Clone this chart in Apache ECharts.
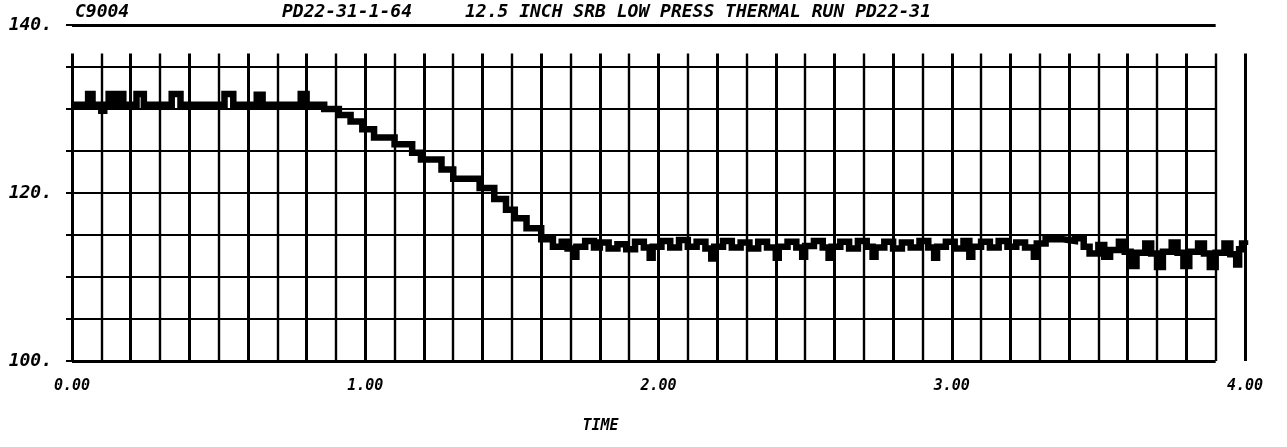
<!DOCTYPE html>
<html><head><meta charset="utf-8">
<script src="https://cdn.jsdelivr.net/npm/echarts@6/dist/echarts.min.js"></script>
<style>html,body{margin:0;padding:0;background:#fff}#c{width:1287px;height:447px}</style>
</head><body><div id="c"></div>
<script>
// ---- data ----
const timeValues = [
  0.00, 0.055, 0.07, 0.10, 0.11, 0.125, 0.145, 0.16, 0.175, 0.22, 0.245, 0.34, 0.37,
  0.52, 0.55, 0.63, 0.65, 0.78, 0.80, 0.86, 0.91, 0.95, 0.99, 1.03, 1.10, 1.16, 1.19,
  1.26, 1.30, 1.39, 1.44, 1.48, 1.51, 1.55, 1.60, 1.64, 1.67, 1.69, 1.71, 1.72, 1.75,
  1.78, 1.80, 1.83, 1.86, 1.89, 1.92, 1.95, 1.97, 1.98, 2.01, 2.04, 2.07, 2.10, 2.13,
  2.16, 2.18, 2.19, 2.22, 2.25, 2.28, 2.31, 2.34, 2.37, 2.40, 2.41, 2.44, 2.47, 2.49,
  2.50, 2.53, 2.56, 2.58, 2.59, 2.62, 2.65, 2.68, 2.71, 2.73, 2.74, 2.77, 2.80, 2.83,
  2.86, 2.89, 2.92, 2.94, 2.95, 2.98, 3.01, 3.04, 3.06, 3.07, 3.10, 3.13, 3.16, 3.19,
  3.22, 3.25, 3.28, 3.29, 3.32, 3.38, 3.42, 3.45, 3.47, 3.50, 3.52, 3.54, 3.57, 3.59,
  3.61, 3.63, 3.66, 3.68, 3.70, 3.72, 3.75, 3.77, 3.79, 3.81, 3.84, 3.86, 3.88, 3.90,
  3.93, 3.95, 3.97, 3.98, 3.99, 4.00
];
const pressureValues = [
  130.5, 131.8, 130.5, 129.8, 130.5, 131.8, 130.5, 131.8, 130.5, 131.8, 130.5, 131.8, 130.5,
  131.8, 130.5, 131.7, 130.5, 131.8, 130.5, 130.0, 129.3, 128.5, 127.6, 126.6, 125.8, 124.8, 124.0,
  122.8, 121.7, 120.6, 119.3, 118.0, 117.0, 115.8, 114.5, 113.6, 114.2, 113.4, 112.4, 113.6, 114.3,
  113.5, 114.1, 113.4, 113.9, 113.3, 114.2, 113.5, 112.3, 113.6, 114.3, 113.5, 114.4, 113.6, 114.2,
  113.4, 112.2, 113.6, 114.3, 113.5, 114.1, 113.4, 114.2, 113.5, 112.3, 113.6, 114.2, 113.5, 112.4,
  113.7, 114.3, 113.5, 112.3, 113.6, 114.2, 113.4, 114.3, 113.6, 112.4, 113.5, 114.2, 113.4, 114.1,
  113.5, 114.3, 113.5, 112.3, 113.6, 114.2, 113.4, 114.3, 112.4, 113.6, 114.2, 113.5, 114.3, 113.6,
  114.1, 113.5, 112.4, 114.0, 114.5, 114.3, 114.6, 113.6, 112.8, 113.8, 112.4, 113.2, 114.2, 113.0,
  111.3, 112.9, 114.0, 112.8, 111.2, 113.0, 114.1, 112.9, 111.3, 113.0, 114.0, 112.8, 111.2, 112.9,
  114.0, 112.7, 111.5, 113.3, 114.0, 113.8
];
const xTickLabels = ['0.00', '1.00', '2.00', '3.00', '4.00'];
const yTickLabels = ['100.', '120.', '140.'];
const titleTexts = ['C9004', 'PD22-31-1-64', '12.5 INCH SRB LOW PRESS THERMAL RUN PD22-31'];
const xAxisName = 'TIME';

// ---- layout / grid structure ----
const X_MIN = 0, X_MAX = 4, Y_MIN = 100, Y_MAX = 140;
const GRID_TOP_VALUE = 136.6;      // vertical rulings stop here
const GRID_RIGHT_VALUE = 3.9;      // horizontal rulings stop here
const FONT = "'DejaVu Sans Mono', monospace";

const seriesData = timeValues.map((t, i) => [t, pressureValues[i]]);

const gridLines = [];
for (let k = 0; k <= 40; k++) {
  const t = k / 10;
  gridLines.push([{ coord: [t, Y_MIN] }, { coord: [t, GRID_TOP_VALUE],
    lineStyle: { width: (k % 2 === 0 ? 3 : 2.4) } }]);
}
for (let k = 0; k <= 8; k++) {
  const v = Y_MIN + k * 5;
  gridLines.push([{ coord: [X_MIN, v] }, { coord: [GRID_RIGHT_VALUE, v],
    lineStyle: { width: (k === 0 || k === 8) ? 3 : 2 } }]);
}

const chart = echarts.init(document.getElementById('c'), null, { renderer: 'canvas' });
const titleLefts = [75, 282, 465];
chart.setOption({
  animation: false,
  backgroundColor: '#ffffff',
  title: titleTexts.map((txt, i) => ({
    text: txt, left: titleLefts[i], top: 3, padding: 0,
    textStyle: { fontFamily: FONT, fontSize: 18, fontWeight: 'bold', fontStyle: 'italic', color: '#000' }
  })),
  grid: { left: 72, right: 42, top: 25, bottom: 86, containLabel: false },
  xAxis: {
    type: 'value', min: X_MIN, max: X_MAX, interval: 1,
    name: xAxisName, nameLocation: 'middle', nameGap: 58,
    nameTextStyle: { fontFamily: FONT, fontSize: 15, fontWeight: 'bold', fontStyle: 'italic', color: '#000', padding: [0, 116, 0, 0] },
    axisLine: { show: false }, axisTick: { show: false }, splitLine: { show: false },
    axisLabel: {
      margin: 18, fontFamily: FONT, fontSize: 15, fontWeight: 'bold', fontStyle: 'italic', color: '#000',
      formatter: v => xTickLabels[Math.round(v)] || ''
    }
  },
  yAxis: {
    type: 'value', min: Y_MIN, max: Y_MAX, interval: 5,
    axisLine: { show: false }, splitLine: { show: false },
    axisTick: { show: true, inside: false, length: 6, lineStyle: { color: '#000', width: 2 } },
    axisLabel: {
      margin: 20, fontFamily: FONT, fontSize: 18, fontWeight: 'bold', fontStyle: 'italic', color: '#000',
      formatter: v => (v % 20 === 0 ? yTickLabels[(v - Y_MIN) / 20] : '')
    }
  },
  series: [
    {
      name: 'rulings', type: 'line', data: [], z: 1, silent: true,
      markLine: {
        silent: true, symbol: ['none', 'none'], animation: false,
        label: { show: false },
        lineStyle: { color: '#000', type: 'solid', width: 2 },
        emphasis: { disabled: true },
        data: gridLines
      }
    },
    {
      name: 'C9004', type: 'line', data: seriesData, step: 'end', z: 5,
      showSymbol: false, symbol: 'none', clip: true,
      lineStyle: { color: '#000', width: 6.5, join: 'miter', cap: 'butt' }
    }
  ]
});
</script>
</body></html>
